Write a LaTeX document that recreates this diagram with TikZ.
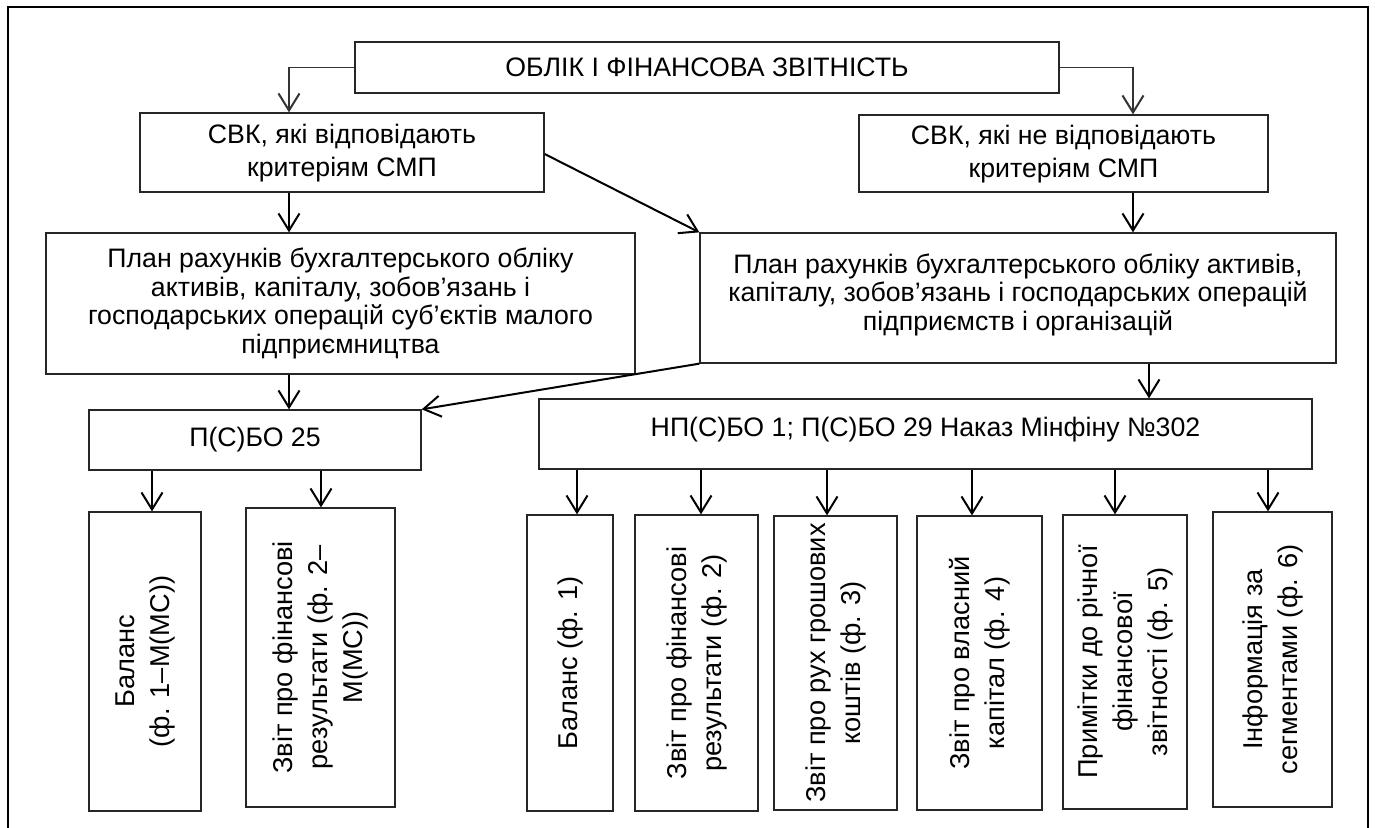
\documentclass[tikz,border=0pt]{standalone}
\usepackage{fontspec}
\setmainfont{Liberation Sans}
\usetikzlibrary{arrows.meta}
\begin{document}
\begin{tikzpicture}[x=1pt,y=-1pt,
  box/.style={draw=black!85,line width=1.3pt,inner sep=0pt,align=center,
    font=\fontsize{26.7}{28.5}\selectfont},
  svkbox/.style={box,font=\fontsize{26.7}{32.5}\selectfont},
  vbox/.style={box,rotate=90,font=\fontsize{27.2}{35}\selectfont},
  arr/.style={line width=2pt,-{Straight Barb[length=17pt,width=21pt,line width=2pt]}},
  elbow/.style={line width=1.5pt,draw=black!80,-{Straight Barb[length=17pt,width=21pt,line width=2pt]}}]
\useasboundingbox (0,0) rectangle (1375,827);
\fill[white] (0,0) rectangle (1375,827);
\draw[line width=2.4pt] (8,830) -- (8,7) -- (1368,7) -- (1368,830);
% boxes
\node[box,minimum width=704pt,minimum height=51pt] (top) at (707,67.5) {ОБЛІК І ФІНАНСОВА ЗВІТНІСТЬ};
\node[svkbox,minimum width=404pt,minimum height=79pt,text depth=4pt] (svk1) at (342,152.5) {СВК, які відповідають\\критеріям СМП};
\node[svkbox,minimum width=409pt,minimum height=77pt,text depth=4pt] (svk2) at (1063.5,153.5) {СВК, які не відповідають\\критеріям СМП};
\node[box,minimum width=589pt,minimum height=141pt] (plan1) at (340.5,303.5) {План рахунків бухгалтерського обліку\\активів, капіталу, зобов’язань і\\господарських операцій суб’єктів малого\\підприємництва};
\node[box,minimum width=636pt,minimum height=130pt,text depth=12pt] (plan2) at (1018,298) {План рахунків бухгалтерського обліку активів,\\капіталу, зобов’язань і господарських операцій\\підприємств і організацій};
\node[box,minimum width=332pt,minimum height=60pt] (psbo) at (255,440) {П(С)БО 25};
\node[box,minimum width=773pt,minimum height=70pt,text depth=14pt] (np) at (925.5,434) {НП(С)БО 1; П(С)БО 29 Наказ Мінфіну №302};
% vertical boxes
\node[vbox,minimum width=299pt,minimum height=112pt] (bal1) at (145,661.5) {Баланс\\(ф. 1–М(МС))};
\node[vbox,minimum width=299pt,minimum height=149pt] (zvit1) at (320.5,657.5) {Звіт про фінансові\\результати (ф. 2–\\М(МС))};
\node[vbox,minimum width=296pt,minimum height=86pt] (bal2) at (570,663) {Баланс (ф. 1)};
\node[vbox,minimum width=296pt,minimum height=123pt] (zvit2) at (696.5,663) {Звіт про фінансові\\результати (ф. 2)};
\node[vbox,minimum width=294pt,minimum height=123pt] (ruh) at (835.5,663) {Звіт про рух грошових\\коштів (ф. 3)};
\node[vbox,minimum width=294pt,minimum height=125pt] (vlas) at (979.5,663) {Звіт про власний\\капітал (ф. 4)};
\node[vbox,minimum width=294pt,minimum height=124pt] (prym) at (1125,662) {Примітки до річної\\фінансової\\звітності (ф. 5)};
\node[vbox,minimum width=295pt,minimum height=119pt] (inf) at (1272.5,659.5) {Інформація за\\сегментами (ф. 6)};
% connectors
\draw[elbow] (top.west) -| ([xshift=-53pt]svk1.north);
\draw[elbow] (top.east) -| ([xshift=69.5pt]svk2.north);
\draw[arr] ([xshift=-53pt]svk1.south) -- ([xshift=-53pt]svk1.south |- plan1.north);
\draw[arr] ([xshift=69.5pt]svk2.south) -- ([xshift=69.5pt]svk2.south |- plan2.north);
\draw[arr] ([yshift=-1.5pt]svk1.east) -- (plan2.north west);
\draw[arr] ([xshift=-51.5pt]plan1.south) -- ([xshift=-51.5pt]plan1.south |- psbo.north);
\draw[arr] (plan2.south west) -- (psbo.north east);
\draw[arr] ([xshift=131pt]plan2.south) -- ([xshift=131pt]plan2.south |- np.north);
\draw[arr] ([xshift=7pt]bal1.east |- psbo.south) -- ([xshift=7pt]bal1.east);
\draw[arr] ([xshift=0.5pt]zvit1.east |- psbo.south) -- ([xshift=0.5pt]zvit1.east);
\draw[arr] ([xshift=7pt]bal2.east |- np.south) -- ([xshift=7pt]bal2.east);
\draw[arr] ([xshift=4.5pt]zvit2.east |- np.south) -- ([xshift=4.5pt]zvit2.east);
\draw[arr] ([xshift=-8.5pt]ruh.east |- np.south) -- ([xshift=-8.5pt]ruh.east);
\draw[arr] ([xshift=-7.5pt]vlas.east |- np.south) -- ([xshift=-7.5pt]vlas.east);
\draw[arr] ([xshift=-10pt]prym.east |- np.south) -- ([xshift=-10pt]prym.east);
\draw[arr] ([xshift=-4.5pt]inf.east |- np.south) -- ([xshift=-4.5pt]inf.east);
\end{tikzpicture}
\end{document}
